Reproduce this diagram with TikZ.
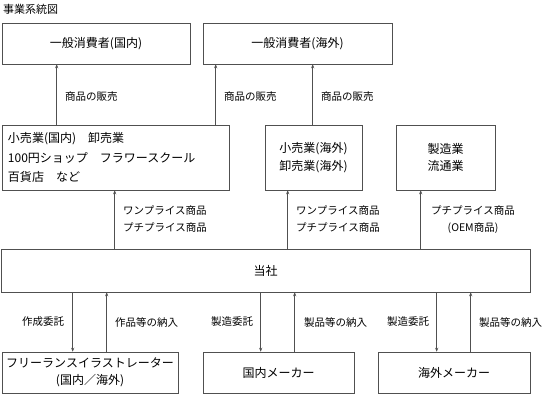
\documentclass[tikz,border=0pt]{standalone}
\usepackage{fontspec}
\setmainfont{Noto Sans CJK JP}
\usetikzlibrary{arrows.meta}
\definecolor{linegray}{HTML}{505050}
\tikzset{
  box/.style={draw=linegray, line width=0.6pt, inner sep=0pt, font=\fontsize{12}{17.5}\selectfont, align=center},
  lbl/.style={inner sep=0pt, font=\fontsize{10.5}{17}\selectfont},
  arr/.style={draw=linegray, line width=0.6pt, -{Stealth[length=4pt,width=3.2pt]}}
}
\begin{document}
\begin{tikzpicture}[x=1pt,y=-1pt]
\useasboundingbox (0,0) rectangle (543,394);
% title
\node[lbl, anchor=west, font=\fontsize{11}{13}\selectfont] (title) at (3,9) {事業系統図};
% top row
\node[box, minimum width=188pt, minimum height=41pt] (c1) at (96,43.5) {一般消費者(国内)};
\node[box, minimum width=189pt, minimum height=41pt] (c2) at (297.5,43.5) {一般消費者(海外)};
% second row
\node[box, minimum width=227pt, minimum height=65pt, text width=215pt, align=left, font=\fontsize{12}{19.5}\selectfont] (r1) at (115.5,157.5) {小売業(国内)　卸売業\\100円ショップ　フラワースクール\\百貨店　など};
\node[box, minimum width=97pt, minimum height=65pt] (r2) at (313.5,157.5) {小売業(海外)\\卸売業(海外)};
\node[box, minimum width=99pt, minimum height=65pt] (r3) at (445.5,157.5) {製造業\\流通業};
% company
\node[box, minimum width=529pt, minimum height=43pt] (hq) at (265.5,270.5) {当社};
% bottom row
\node[box, minimum width=176pt, minimum height=41pt] (b1) at (90,372.5) {フリーランスイラストレーター\\(国内／海外)};
\node[box, minimum width=151pt, minimum height=41pt] (b2) at (278.5,372.5) {国内メーカー};
\node[box, minimum width=152pt, minimum height=41pt] (b3) at (454,372.5) {海外メーカー};
% arrows top
\draw[arr] ([xshift=55pt]r1.north west) -- ([xshift=55pt]c1.south west);
\draw[arr] ([xshift=214pt]r1.north west) -- ([xshift=13pt]c2.south west);
\draw[arr] ([xshift=48pt]r2.north west) -- ([xshift=110pt]c2.south west);
\node[lbl, anchor=west] (l1) at (65,97) {商品の販売};
\node[lbl, anchor=west] (l2) at (224,97) {商品の販売};
\node[lbl, anchor=west] (l3) at (321,97) {商品の販売};
% arrows middle
\draw[arr] ([xshift=114pt]hq.north west) -- ([xshift=113pt]r1.south west);
\draw[arr] ([xshift=287pt]hq.north west) -- ([xshift=23pt]r2.south west);
\draw[arr] ([xshift=420pt]hq.north west) -- ([xshift=25pt]r3.south west);
\node[lbl, anchor=west, align=left] (m1) at (123,219.5) {ワンプライス商品\\プチプライス商品};
\node[lbl, anchor=west, align=left] (m2) at (296,219.5) {ワンプライス商品\\プチプライス商品};
\node[lbl, align=center] (m3) at (473,219.5) {プチプライス商品\\(OEM商品)};
% arrows bottom
\draw[arr] ([xshift=72pt]hq.south west) -- ([xshift=71pt]b1.north west);
\draw[arr] ([xshift=105pt]b1.north west) -- ([xshift=106pt]hq.south west);
\draw[arr] ([xshift=260pt]hq.south west) -- ([xshift=58pt]b2.north west);
\draw[arr] ([xshift=92pt]b2.north west) -- ([xshift=294pt]hq.south west);
\draw[arr] ([xshift=436pt]hq.south west) -- ([xshift=59pt]b3.north west);
\draw[arr] ([xshift=93pt]b3.north west) -- ([xshift=470pt]hq.south west);
\node[lbl] (d1) at (43,322) {作成委託};
\node[lbl, anchor=west] (d2) at (115,322) {作品等の納入};
\node[lbl] (d3) at (232,322) {製造委託};
\node[lbl, anchor=west] (d4) at (304,322) {製品等の納入};
\node[lbl] (d5) at (408,322) {製造委託};
\node[lbl, anchor=west] (d6) at (479,322) {製品等の納入};
\end{tikzpicture}
\end{document}
